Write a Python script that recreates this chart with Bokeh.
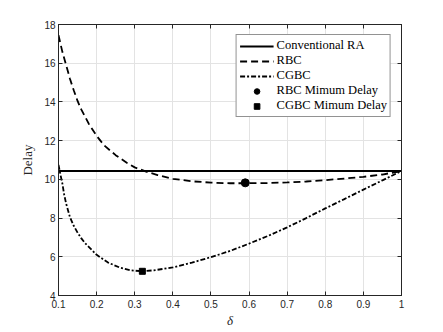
from bokeh.plotting import figure
from bokeh.models import LinearAxis, FixedTicker, Legend, LegendItem, Range1d
from bokeh.embed import file_html
from bokeh.resources import INLINE

# ---- data ----
ra_x = [0.1, 1.0]
ra_y = [10.43, 10.43]

rbc_x = [0.10, 0.11, 0.12, 0.13, 0.14, 0.15, 0.16, 0.18, 0.20, 0.22, 0.25, 0.28, 0.30,
         0.33, 0.36, 0.40, 0.45, 0.50, 0.55, 0.60, 0.65, 0.70, 0.75, 0.80, 0.85,
         0.90, 0.95, 1.00]
rbc_y = [17.45, 16.6, 15.9, 15.2, 14.6, 14.05, 13.6, 12.85, 12.25, 11.75, 11.25, 10.85, 10.62,
         10.4, 10.22, 10.03, 9.9, 9.83, 9.8, 9.8, 9.81, 9.84, 9.89, 9.96, 10.04,
         10.13, 10.25, 10.43]

cgbc_x = [0.10, 0.105, 0.11, 0.115, 0.12, 0.13, 0.14, 0.15, 0.16, 0.17, 0.18, 0.20, 0.23,
          0.26, 0.29, 0.32, 0.35, 0.40, 0.45, 0.50, 0.55, 0.60, 0.65, 0.70,
          0.75, 0.80, 0.85, 0.90, 0.95, 1.00]
cgbc_y = [10.75, 10.25, 9.8, 9.2, 8.75, 8.05, 7.6, 7.25, 6.95, 6.7, 6.5, 6.1, 5.7,
          5.45, 5.3, 5.25, 5.3, 5.45, 5.7, 5.98, 6.3, 6.68, 7.08, 7.52,
          8.0, 8.5, 8.98, 9.47, 9.95, 10.43]

rbc_min_x = [0.59]
rbc_min_y = [9.82]
cgbc_min_x = [0.32]
cgbc_min_y = [5.25]

x_ticks = [0.1, 0.2, 0.3, 0.4, 0.5, 0.6, 0.7, 0.8, 0.9, 1.0]
y_ticks = [4, 6, 8, 10, 12, 14, 16, 18]
x_labels = {0.1: "0.1", 0.2: "0.2", 0.3: "0.3", 0.4: "0.4", 0.5: "0.5", 0.6: "0.6",
            0.7: "0.7", 0.8: "0.8", 0.9: "0.9", 1.0: "1"}

AX = "#262626"
SERIF = "Liberation Serif"
SANS = "Liberation Sans"

p = figure(frame_width=343, frame_height=271, output_backend="svg", toolbar_location=None,
           x_range=Range1d(0.1, 1.0), y_range=Range1d(4, 18),
           min_border_left=58, min_border_top=24, min_border_right=20, min_border_bottom=30,
           background_fill_color="white", border_fill_color="white")

p.outline_line_color = AX
p.outline_line_width = 1

for ax in (p.xaxis[0], p.yaxis[0]):
    ax.axis_line_color = AX
    ax.major_tick_line_color = AX
    ax.major_tick_in = 4
    ax.major_tick_out = 0
    ax.minor_tick_line_color = None
    ax.major_label_text_font = SANS
    ax.major_label_text_font_size = "10px"
    ax.major_label_text_color = AX
    ax.axis_label_text_font = SERIF
    ax.axis_label_text_font_size = "13px"
    ax.axis_label_text_font_style = "normal"
    ax.axis_label_text_color = AX

p.xaxis[0].ticker = FixedTicker(ticks=x_ticks)
p.xaxis[0].major_label_overrides = x_labels
p.xaxis[0].axis_label = "δ"
p.xaxis[0].axis_label_text_font_style = "italic"
p.xaxis[0].major_label_standoff = 4
p.xaxis[0].axis_label_standoff = 2

p.yaxis[0].ticker = FixedTicker(ticks=y_ticks)
p.yaxis[0].axis_label = "Delay"
p.yaxis[0].major_label_standoff = 3
p.yaxis[0].axis_label_standoff = 6

for loc, ticks in (("above", x_ticks), ("right", y_ticks)):
    a = LinearAxis(ticker=FixedTicker(ticks=ticks))
    a.axis_line_color = AX
    a.major_tick_line_color = AX
    a.major_tick_in = 4
    a.major_tick_out = 0
    a.minor_tick_line_color = None
    a.major_label_text_font_size = "1px"
    a.major_label_text_color = None
    a.major_label_standoff = 0
    p.add_layout(a, loc)

p.xgrid.ticker = FixedTicker(ticks=x_ticks)
p.ygrid.ticker = FixedTicker(ticks=y_ticks)
p.grid.grid_line_color = "#e3e3e3"
p.grid.grid_line_width = 1

r_ra = p.line(ra_x, ra_y, line_color="black", line_width=2)
r_rbc = p.line(rbc_x, rbc_y, line_color="black", line_width=1.8, line_dash="7 4")
r_cgbc = p.line(cgbc_x, cgbc_y, line_color="black", line_width=1.8, line_dash="5 2 2 2")
r_m1 = p.scatter(rbc_min_x, rbc_min_y, marker="circle", size=8, fill_color="black", line_color="black")
r_m2 = p.scatter(cgbc_min_x, cgbc_min_y, marker="square", size=6, fill_color="black", line_color="black")

legend = Legend(items=[
    LegendItem(label="Conventional RA", renderers=[r_ra]),
    LegendItem(label="RBC", renderers=[r_rbc]),
    LegendItem(label="CGBC", renderers=[r_cgbc]),
    LegendItem(label="RBC Mimum Delay", renderers=[r_m1]),
    LegendItem(label="CGBC Mimum Delay", renderers=[r_m2]),
], location="top_right")
legend.label_text_font = SERIF
legend.label_text_font_size = "12.5px"
legend.label_text_color = "black"
legend.glyph_width = 34
legend.glyph_height = 14
legend.label_height = 14
legend.label_standoff = 3
legend.spacing = 0
legend.padding = 3
legend.margin = 10
legend.border_line_color = AX
legend.border_line_width = 1
legend.background_fill_color = "white"
legend.background_fill_alpha = 1
p.add_layout(legend, "center")

open("out.html", "w").write(file_html(p, INLINE))
